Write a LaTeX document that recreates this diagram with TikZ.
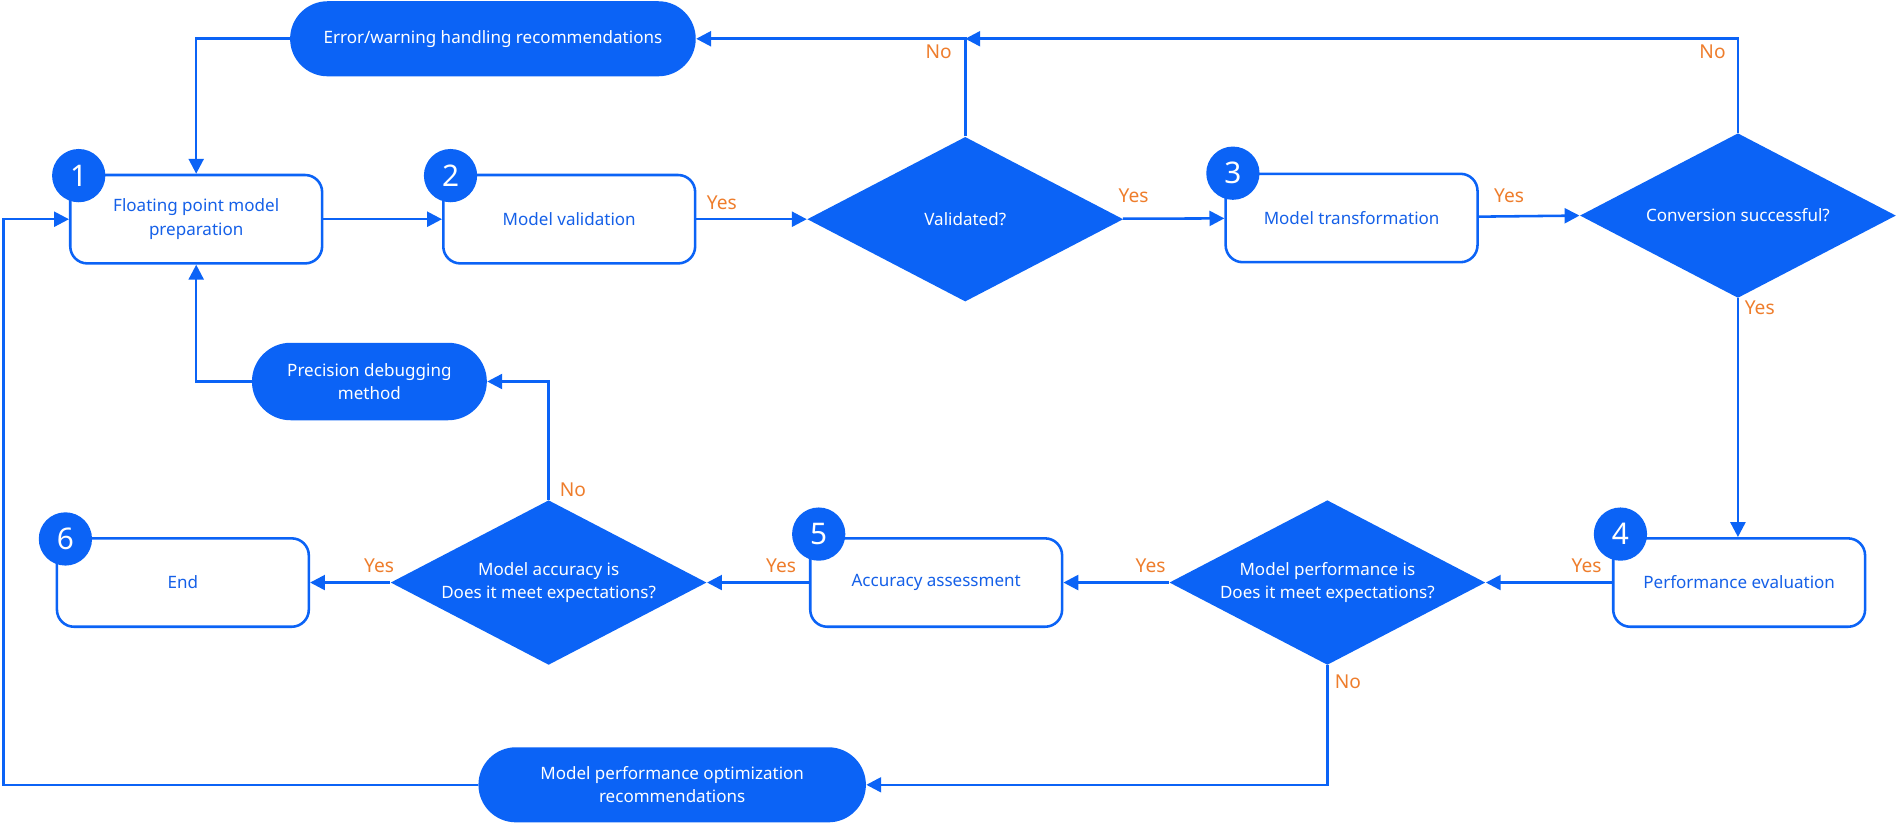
\documentclass[tikz,border=0pt]{standalone}
\usepackage{fontspec}
\setmainfont{Noto Sans}
\usetikzlibrary{shapes.geometric,arrows.meta}
\definecolor{flowblue}{HTML}{0B63F6}
\definecolor{flowtext}{HTML}{1560E8}
\definecolor{floworange}{HTML}{EE7D2C}
\tikzset{
  stepbox/.style={draw=flowblue,line width=1.2pt,rounded corners=8pt,fill=white,
    minimum width=4.16cm,minimum height=1.46cm,align=center,text=flowtext,
    font=\fontsize{8}{11}\selectfont},
  term/.style={fill=flowblue,rounded corners=0.62cm,minimum height=1.24cm,
    align=center,text=white,font=\fontsize{8}{11}\selectfont\bfseries},
  decide/.style={diamond,fill=flowblue,aspect=1.92,inner sep=0pt,
    minimum width=5.22cm,minimum height=2.72cm,align=center,text=white,
    font=\fontsize{8}{11}\selectfont\bfseries},
  num/.style={circle,fill=flowblue,minimum size=0.88cm,inner sep=0pt,text=white,
    font=\fontsize{14}{14}\selectfont\bfseries},
  flow/.style={draw=flowblue,line width=1.2pt,-{Triangle[length=7pt,width=7pt]}},
  answer/.style={text=flowoorange,font=\fontsize{9}{10}\selectfont\bfseries},
}
\colorlet{flowoorange}{floworange}
\begin{document}
\begin{tikzpicture}[x=0.02cm,y=-0.02cm]
  \useasboundingbox (0,0) rectangle (1568,680);
  % process steps
  \node[stepbox] (prep) at (162,181) {Floating point model\\preparation};
  \node[stepbox] (valid) at (470,181) {Model validation};
  \node[stepbox] (trans) at (1116,180) {Model transformation};
  \node[stepbox] (perf) at (1436,481) {Performance evaluation};
  \node[stepbox] (acc) at (773,481) {Accuracy assessment};
  \node[stepbox] (end) at (151,481) {End};
  \node[num] (n1) at (65,145) {1};
  \node[num] (n2) at (372,145) {2};
  \node[num] (n3) at (1018,143) {3};
  \node[num] (n4) at (1338,441) {4};
  \node[num] (n5) at (676,441) {5};
  \node[num] (n6) at (54,445) {6};
  % decisions
  \node[decide] (isvalid) at (797,181) {Validated?};
  \node[decide] (conv) at (1435,178) {Conversion successful?};
  \node[decide] (perfok) at (1096,481) {Model performance is\\Does it meet expectations?};
  \node[decide] (accok) at (453,481) {Model accuracy is\\Does it meet expectations?};
  % terminals
  \node[term,minimum width=6.7cm] (err) at (407,32) {Error/warning handling recommendations};
  \node[term,minimum width=3.88cm,rounded corners=0.64cm,minimum height=1.28cm] (debug) at (305,315) {Precision debugging\\method};
  \node[term,minimum width=6.4cm] (opt) at (555,648) {Model performance optimization\\recommendations};
  % connectors
  \draw[flow] (err.west) -| (prep.north);
  \draw[flow] (prep) -- (valid);
  \draw[flow] (valid) -- (isvalid);
  \draw[flow] (isvalid) -- (trans);
  \draw[flow] (isvalid.north) |- (err.east);
  \draw[flow] (trans) -- (conv.west);
  \draw[flow] (conv.north) |- (797,32);
  \draw[flow] (conv.south) -- (perf.north -| conv.south);
  \draw[flow] (perf) -- (perfok);
  \draw[flow] (perfok) -- (acc);
  \draw[flow] (perfok.south) |- (opt.east);
  \draw[flow] (opt.west) -| (3,181) -- (prep.west);
  \draw[flow] (acc) -- (accok);
  \draw[flow] (accok) -- (end);
  \draw[flow] (accok.north) |- (debug.east);
  \draw[flow] (debug.west) -| (prep.south);
  % labels
  \node[answer] at (596,167) {Yes};
  \node[answer] at (936,162) {Yes};
  \node[answer] at (1246,162) {Yes};
  \node[answer] at (775,43) {No};
  \node[answer] at (1414,43) {No};
  \node[answer] at (1453,254) {Yes};
  \node[answer] at (1310,467) {Yes};
  \node[answer] at (950,467) {Yes};
  \node[answer] at (1113,563) {No};
  \node[answer] at (645,467) {Yes};
  \node[answer] at (313,467) {Yes};
  \node[answer] at (473,404) {No};
\end{tikzpicture}
\end{document}
